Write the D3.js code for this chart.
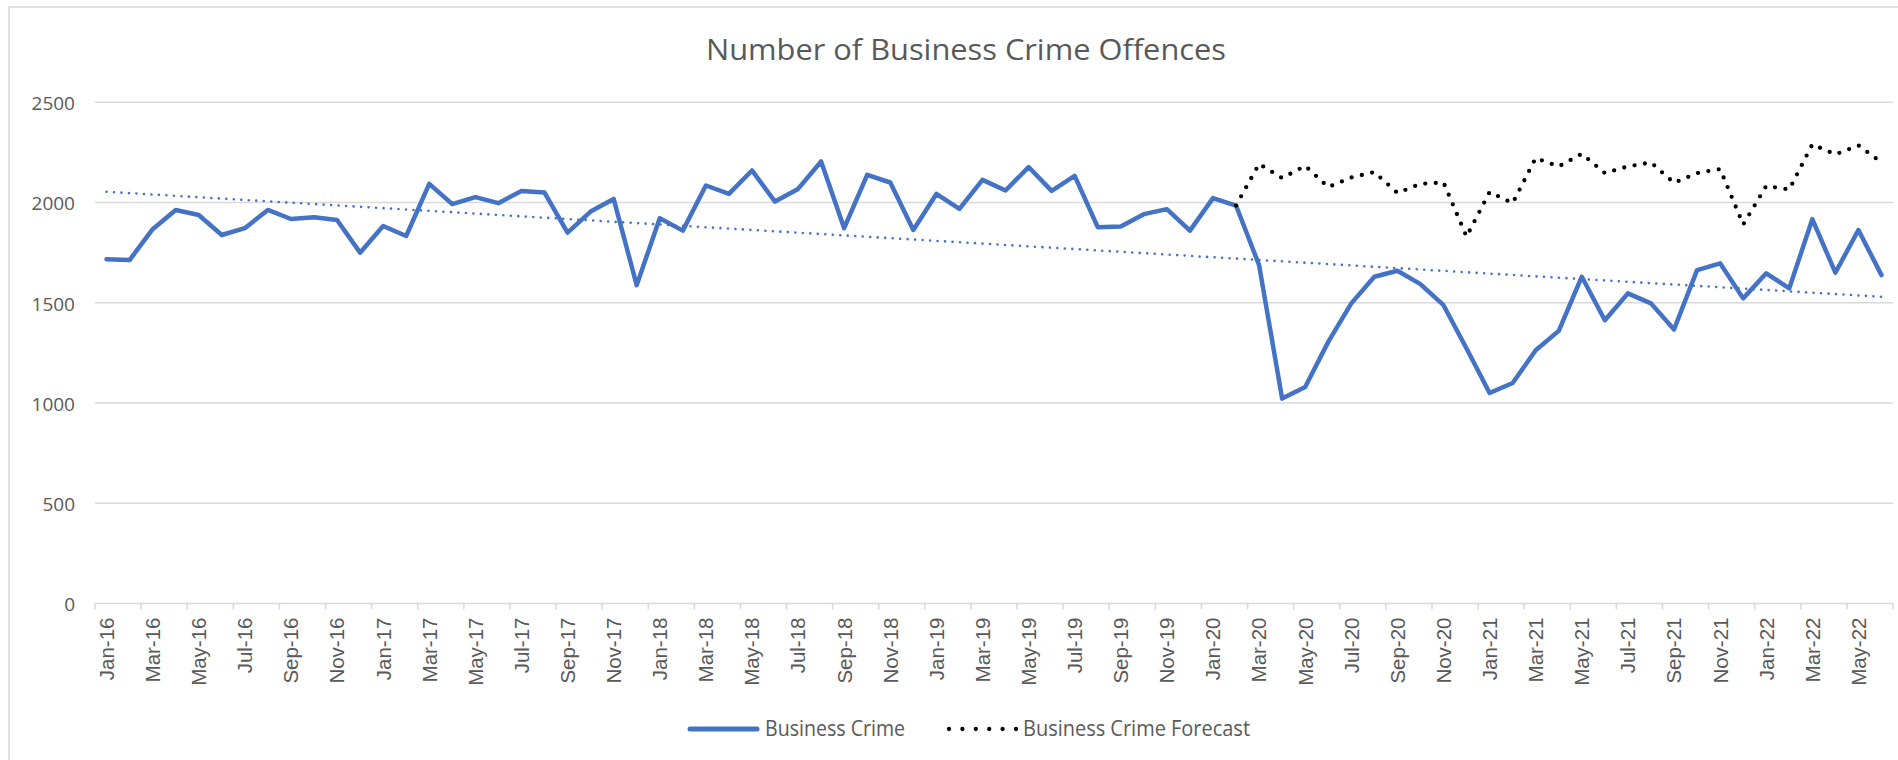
<!DOCTYPE html>
<html>
<head>
<meta charset="utf-8">
<script src="https://cdn.jsdelivr.net/npm/d3@7"></script>
<style>
  html, body { margin: 0; padding: 0; background: #ffffff; }
  svg { display: block; }
</style>
</head>
<body>
<svg id="chart" width="1898" height="760"></svg>
<script>
// Monthly categories, Jan 2016 – Jun 2022
const months = [
  "Jan-16","Feb-16","Mar-16","Apr-16","May-16","Jun-16","Jul-16","Aug-16","Sep-16","Oct-16","Nov-16","Dec-16",
  "Jan-17","Feb-17","Mar-17","Apr-17","May-17","Jun-17","Jul-17","Aug-17","Sep-17","Oct-17","Nov-17","Dec-17",
  "Jan-18","Feb-18","Mar-18","Apr-18","May-18","Jun-18","Jul-18","Aug-18","Sep-18","Oct-18","Nov-18","Dec-18",
  "Jan-19","Feb-19","Mar-19","Apr-19","May-19","Jun-19","Jul-19","Aug-19","Sep-19","Oct-19","Nov-19","Dec-19",
  "Jan-20","Feb-20","Mar-20","Apr-20","May-20","Jun-20","Jul-20","Aug-20","Sep-20","Oct-20","Nov-20","Dec-20",
  "Jan-21","Feb-21","Mar-21","Apr-21","May-21","Jun-21","Jul-21","Aug-21","Sep-21","Oct-21","Nov-21","Dec-21",
  "Jan-22","Feb-22","Mar-22","Apr-22","May-22","Jun-22"
];

// Recorded business crime offences per month
const businessCrime = [
  1717,1713,1867,1963,1938,1838,1872,1963,1918,1927,1913,1750,
  1883,1833,2093,1992,2027,1997,2058,2050,1850,1955,2018,1588,
  1922,1860,2085,2043,2160,2005,2068,2205,1872,2138,2100,1863,
  2043,1968,2113,2060,2177,2058,2133,1877,1880,1942,1967,1860,
  2022,1985,1688,1022,1080,1305,1497,1630,1660,1593,1488,1272,
  1050,1100,1263,1360,1630,1413,1547,1497,1367,1663,1697,1522,
  1647,1572,1917,1650,1863,1638
];

// Forecast series, starting from the last pre-pandemic month (Feb-20)
const businessCrimeForecast = [
  null,null,null,null,null,null,null,null,null,null,null,null,
  null,null,null,null,null,null,null,null,null,null,null,null,
  null,null,null,null,null,null,null,null,null,null,null,null,
  null,null,null,null,null,null,null,null,null,null,null,null,
  null,1985,2193,2122,2183,2077,2125,2152,2048,2093,2100,1830,
  2052,1997,2222,2180,2243,2147,2180,2200,2098,2147,2167,1890,
  2083,2065,2290,2240,2285,2200
];

const yTicks = [0, 500, 1000, 1500, 2000, 2500];

const chartTitle = "Number of Business Crime Offences";
const legendLabels = ["Business Crime", "Business Crime Forecast"];

// ---------------------------------------------------------------
const svg = d3.select("#chart");
const W = 1898, H = 760;
const plot = { left: 95, right: 1893, top: 102.3, bottom: 603.5 };

const textGray = "#595959";
const gridGray = "#d9d9d9";
const blue = "#4472C4";

// chart frame
svg.append("rect")
  .attr("x", 9).attr("y", 7)
  .attr("width", W + 20).attr("height", H + 20)
  .attr("fill", "#ffffff")
  .attr("stroke", gridGray).attr("stroke-width", 1.5);

const x = d3.scaleBand().domain(months).range([plot.left, plot.right]).padding(0);
const cx = m => x(m) + x.bandwidth() / 2;
const y = d3.scaleLinear().domain([0, 2500]).range([plot.bottom, plot.top]);

// horizontal gridlines
svg.append("g")
  .selectAll("line")
  .data(yTicks.filter(v => v > 0))
  .join("line")
  .attr("x1", plot.left).attr("x2", plot.right)
  .attr("y1", d => y(d)).attr("y2", d => y(d))
  .attr("stroke", gridGray).attr("stroke-width", 1.5);

// y axis labels
const yAxis = svg.append("g")
  .attr("transform", `translate(${plot.left - 20},0)`)
  .call(d3.axisLeft(y).tickValues(yTicks).tickFormat(d3.format("d")).tickSize(0).tickPadding(0));
yAxis.select(".domain").remove();
yAxis.selectAll("text")
  .attr("fill", textGray)
  .attr("font-family", "'Open Sans', 'Noto Sans', sans-serif")
  .attr("font-size", 19)
  .attr("dy", "0.38em");

// x axis: baseline, tick marks at every second category boundary, rotated labels
svg.append("line")
  .attr("x1", plot.left).attr("x2", plot.right)
  .attr("y1", y(0)).attr("y2", y(0))
  .attr("stroke", gridGray).attr("stroke-width", 1.5);

const tickBounds = months.map((m, i) => i).filter(i => i % 2 === 0).map(i => x(months[i]));
tickBounds.push(plot.right);
svg.append("g")
  .selectAll("line")
  .data(tickBounds)
  .join("line")
  .attr("x1", d => d).attr("x2", d => d)
  .attr("y1", y(0)).attr("y2", y(0) + 6)
  .attr("stroke", gridGray).attr("stroke-width", 1.5);

const xAxis = svg.append("g")
  .attr("transform", `translate(0,${y(0)})`)
  .call(d3.axisBottom(x).tickValues(months.filter((m, i) => i % 2 === 0)).tickSize(0));
xAxis.select(".domain").remove();
xAxis.selectAll("text")
  .attr("fill", textGray)
  .attr("font-family", "'Liberation Sans', Arial, sans-serif")
  .attr("font-size", 20.5)
  .attr("text-anchor", "end")
  .attr("transform", "rotate(-90)")
  .attr("x", -14)
  .attr("y", 0)
  .attr("dy", "0.36em");

// series
const line = d3.line()
  .defined(d => d.v !== null)
  .x(d => cx(d.m))
  .y(d => y(d.v));

const actualPts = months.map((m, i) => ({ m, v: businessCrime[i] }));
const forecastPts = months.map((m, i) => ({ m, v: businessCrimeForecast[i] }));

svg.append("path")
  .datum(actualPts)
  .attr("d", line)
  .attr("fill", "none")
  .attr("stroke", blue)
  .attr("stroke-width", 4.5)
  .attr("stroke-linejoin", "round")
  .attr("stroke-linecap", "round");

// linear trend (least squares) of the recorded series
const n = businessCrime.length;
const xs = d3.range(n);
const mx = d3.mean(xs), my = d3.mean(businessCrime);
const slope = d3.sum(xs, i => (i - mx) * (businessCrime[i] - my)) / d3.sum(xs, i => (i - mx) * (i - mx));
const intercept = my - slope * mx;
const trendPts = [
  { m: months[0], v: intercept },
  { m: months[n - 1], v: intercept + slope * (n - 1) }
];
svg.append("path")
  .datum(trendPts)
  .attr("d", line)
  .attr("fill", "none")
  .attr("stroke", blue)
  .attr("stroke-width", 2.6)
  .attr("stroke-linecap", "round")
  .attr("stroke-dasharray", "0 7.5");

svg.append("path")
  .datum(forecastPts)
  .attr("d", line)
  .attr("fill", "none")
  .attr("stroke", "#000000")
  .attr("stroke-width", 4.3)
  .attr("stroke-linecap", "round")
  .attr("stroke-dasharray", "0 10.5");

// title
svg.append("text")
  .attr("x", 966).attr("y", 60)
  .attr("text-anchor", "middle")
  .attr("fill", textGray)
  .attr("font-family", "'Open Sans', 'Noto Sans', sans-serif")
  .attr("font-size", 30)
  .attr("textLength", 520)
  .attr("lengthAdjust", "spacingAndGlyphs")
  .text(chartTitle);

// legend
const legend = svg.append("g");
legend.append("line")
  .attr("x1", 690).attr("x2", 757)
  .attr("y1", 729).attr("y2", 729)
  .attr("stroke", blue).attr("stroke-width", 5)
  .attr("stroke-linecap", "round");
legend.append("text")
  .attr("x", 765).attr("y", 736)
  .attr("fill", textGray)
  .attr("font-family", "'Open Sans', 'Noto Sans', sans-serif")
  .attr("font-size", 21)
  .attr("textLength", 140)
  .attr("lengthAdjust", "spacingAndGlyphs")
  .text(legendLabels[0]);
legend.append("line")
  .attr("x1", 949).attr("x2", 1016)
  .attr("y1", 729).attr("y2", 729)
  .attr("stroke", "#000000").attr("stroke-width", 4.3)
  .attr("stroke-linecap", "round")
  .attr("stroke-dasharray", "0 13.4");
legend.append("text")
  .attr("x", 1023).attr("y", 736)
  .attr("fill", textGray)
  .attr("font-family", "'Open Sans', 'Noto Sans', sans-serif")
  .attr("font-size", 21)
  .attr("textLength", 227)
  .attr("lengthAdjust", "spacingAndGlyphs")
  .text(legendLabels[1]);
</script>
</body>
</html>
